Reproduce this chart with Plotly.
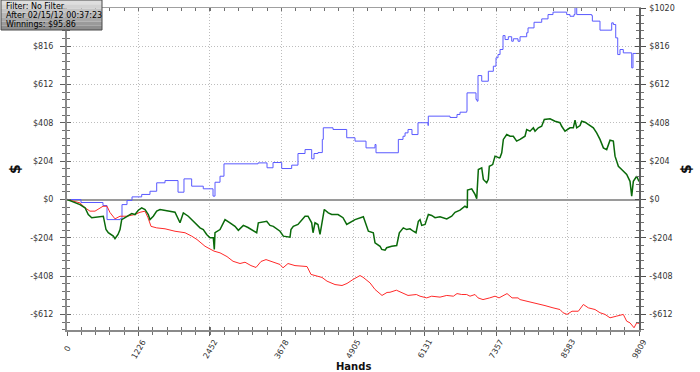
import plotly.graph_objects as go

# ---------------- data ----------------
blue_x = [0, 240, 617, 686, 909, 943, 1029, 1115, 1281, 1423, 1538, 1681, 1904, 2006, 2138, 2337,
          2504, 2538, 2624, 2692, 3276, 3430, 3533, 3682, 3853, 3961, 4082, 4196, 4236, 4304, 4378,
          4395, 4562, 4797, 4939, 5128, 5282, 5299, 5682, 5762, 5797, 5848, 5916, 6019, 6191, 6196,
          6568, 6688, 6740, 6854, 6860, 7014, 7031, 7048, 7112, 7225, 7311, 7357, 7391, 7426, 7477,
          7512, 7568, 7626, 7654, 7734, 7769, 7883, 7906, 8009, 8141, 8249, 8334, 8569, 8626, 8694,
          8712, 8741, 8998, 9009, 9140, 9341, 9369, 9410, 9444, 9483, 9540, 9684, 9706, 9809]
blue_y = [0, -16, -32, -107, -103, -27, -5, 14, 27, 44, 89, 101, 39, 110, 71, 57,
          18, 92, 124, 190, 195, 169, 197, 165, 183, 245, 266, 217, 245, 250, 320,
          382, 373, 329, 311, 275, 293, 249, 320, 337, 355, 373, 346, 409, 394, 444,
          437, 453, 465, 470, 568, 533, 524, 660, 630, 683, 710, 755, 772, 799, 873,
          852, 867, 843, 856, 843, 867, 888, 914, 944, 962, 985, 998, 985, 976, 985,
          1040, 985, 980, 950, 902, 941, 932, 861, 772, 799, 781, 701, 778, 778]

green_x = [0, 108, 223, 309, 365, 424, 509, 623, 669, 708, 794, 823, 875, 909, 938, 1024, 1110,
           1166, 1223, 1281, 1338, 1394, 1423, 1480, 1538, 1595, 1766, 1852, 1938, 1995, 2080,
           2138, 2224, 2281, 2337, 2395, 2452, 2509, 2526, 2538, 2624, 2681, 2710, 2795, 2881,
           2938, 3024, 3104, 3167, 3253, 3281, 3425, 3481, 3538, 3653, 3710, 3824, 3841, 3881,
           3961, 4082, 4133, 4196, 4219, 4253, 4304, 4339, 4368, 4412, 4481, 4539, 4648, 4733,
           4797, 4882, 4939, 5082, 5111, 5168, 5253, 5282, 5368, 5397, 5454, 5482, 5568, 5654,
           5699, 5739, 5767, 5825, 5882, 5939, 5985, 6025, 6054, 6083, 6140, 6197, 6254, 6311,
           6397, 6512, 6597, 6654, 6740, 6825, 6865, 6868, 6940, 6997, 7026, 7054, 7112, 7140,
           7197, 7225, 7242, 7300, 7340, 7414, 7426, 7455, 7483, 7541, 7598, 7654, 7711, 7769,
           7854, 7883, 7940, 7997, 8026, 8083, 8140, 8185, 8283, 8369, 8454, 8483, 8540, 8626,
           8683, 8712, 8741, 8798, 8826, 8883, 8940, 9026, 9083, 9140, 9198, 9255, 9312, 9369,
           9398, 9455, 9512, 9598, 9655, 9684, 9712, 9769, 9809]
green_y = [0, -14, -27, -44, -80, -97, -92, -89, -160, -177, -195, -209, -186, -160, -107, -89, -75,
           -80, -57, -44, -53, -80, -107, -89, -62, -53, -62, -68, -124, -71, -89,
           -107, -133, -151, -160, -186, -204, -204, -266, -177, -160, -124, -107, -124, -143,
           -164, -138, -149, -160, -177, -124, -116, -138, -143, -169, -195, -201, -160, -143,
           -133, -89, -89, -124, -177, -124, -133, -186, -124, -53, -71, -80, -80, -97,
           -133, -116, -107, -92, -116, -169, -177, -231, -249, -266, -270, -257, -249, -245,
           -177, -160, -151, -160, -156, -169, -177, -116, -107, -138, -133, -80, -85, -97,
           -92, -103, -89, -68, -57, -36, -44, 50, 57, 27, 4, 160, 169, 107,
           89, 107, 177, 186, 231, 222, 224, 249, 320, 346, 337, 337, 311, 320,
           337, 373, 364, 382, 364, 382, 390, 426, 430, 417, 409, 390, 364, 382,
           382, 422, 382, 394, 417, 412, 399, 382, 355, 320, 275, 266, 316, 311,
           231, 177, 160, 133, 97, 18, 97, 124, 96]

red_x = [0, 223, 309, 394, 480, 566, 617, 686, 737, 823, 909, 1024, 1110, 1166, 1252, 1338, 1389,
         1441, 1538, 1681, 1852, 2024, 2138, 2229, 2367, 2452, 2521, 2624, 2744, 2847, 2967, 3053,
         3155, 3241, 3327, 3413, 3498, 3653, 3704, 3790, 3910, 3996, 4116, 4184, 4304, 4373, 4459,
         4596, 4716, 4802, 4905, 4973, 5025, 5076, 5128, 5196, 5282, 5402, 5488, 5539, 5648, 5733,
         5848, 5991, 6054, 6168, 6254, 6397, 6512, 6626, 6688, 6768, 6854, 6911, 6997, 7048, 7134,
         7249, 7340, 7409, 7477, 7546, 7632, 7734, 7769, 7883, 8026, 8112, 8197, 8334, 8454, 8506,
         8575, 8660, 8769, 8855, 8940, 9055, 9140, 9226, 9312, 9426, 9540, 9598, 9655, 9724, 9769,
         9809]
red_y = [0, -18, -44, -62, -62, -44, -36, -36, -69, -103, -89, -89, -85, -80, -68, -62, -97,
         -143, -151, -156, -169, -177, -195, -213, -249, -263, -275, -284, -304, -329, -341, -334,
         -352, -362, -330, -320, -329, -346, -364, -341, -352, -355, -357, -399, -409, -415, -435,
         -453, -458, -447, -426, -415, -405, -414, -426, -444, -479, -511, -495, -494, -483, -494,
         -511, -506, -515, -524, -515, -520, -511, -515, -501, -506, -506, -515, -506, -524, -533,
         -524, -515, -524, -511, -501, -524, -524, -533, -541, -550, -559, -565, -577, -586, -603,
         -612, -595, -595, -559, -577, -586, -603, -612, -630, -621, -612, -648, -657, -683, -657,
         -660]

x_ticks = [0, 1226, 2452, 3678, 4905, 6131, 7357, 8583, 9809]
x_tick_labels = ["0", "1226", "2452", "3678", "4905", "6131", "7357", "8583", "9809"]
y_ticks = [-612, -408, -204, 0, 204, 408, 612, 816, 1020]
y_tick_labels = ["-$612", "-$408", "-$204", "$0", "$204", "$408", "$612", "$816", "$1020"]
y_tick_labels_left = y_tick_labels[:-1] + [""]
info_lines = ["Filter: No Filter", "After 02/15/12 00:37:23", "Winnings: $95.86"]

X_RANGE = [0, 9809]
Y_RANGE = [-695, 1020]

FONT = "DejaVu Sans"
W, H = 700, 372
ML, MR, MT, MB = 67, 61, 8, 42
PW, PH = W - ML - MR, H - MT - MB


def px_to_paper_x(px):
    return (px - ML) / PW


def px_to_paper_y(py):
    return (H - MB - py) / PH


fig = go.Figure()
fig.add_trace(go.Scatter(x=blue_x, y=blue_y, mode="lines", line=dict(color="#5a5aff", width=1, shape="hv"),
                         showlegend=False, hoverinfo="skip"))
fig.add_trace(go.Scatter(x=red_x, y=red_y, mode="lines", line=dict(color="#ff2a2a", width=1),
                         showlegend=False, hoverinfo="skip"))
fig.add_trace(go.Scatter(x=green_x, y=green_y, mode="lines", line=dict(color="#0a6a0a", width=1.5),
                         showlegend=False, hoverinfo="skip"))
# helper traces so overlay axes are drawn
fig.add_trace(go.Scatter(x=[None], y=[None], xaxis="x2", yaxis="y2", showlegend=False, hoverinfo="skip"))
fig.add_trace(go.Scatter(x=[None], y=[None], xaxis="x3", yaxis="y3", showlegend=False, hoverinfo="skip"))
fig.add_trace(go.Scatter(x=[None], y=[None], xaxis="x", yaxis="y4", showlegend=False, hoverinfo="skip"))

tickfont = dict(family=FONT, size=8, color="#333333")
minor_x = dict(dtick=9809 / 40, tick0=0, ticklen=3, tickcolor="#707070", showgrid=False)
minor_y = dict(dtick=40.8, tick0=0, ticklen=3, tickcolor="#707070", showgrid=False)
GRID = dict(showgrid=True, gridcolor="#bdbdbd", griddash="1px,2px", gridwidth=1)

fig.update_layout(
    width=W, height=H,
    margin=dict(l=ML, r=MR, t=MT, b=MB, autoexpand=False),
    paper_bgcolor="white", plot_bgcolor="white",
    xaxis=dict(range=X_RANGE, tickmode="array", tickvals=x_ticks, showticklabels=False, automargin=False,
               ticks="outside", ticklen=4, tickcolor="#606060", minor=dict(ticks="outside", **minor_x),
               showline=True, linecolor="#8a8a8a", linewidth=2, zeroline=False, **GRID),
    xaxis2=dict(range=X_RANGE, overlaying="x", side="bottom", anchor="y2", tickmode="array", automargin=False,
                tickvals=x_ticks, showticklabels=False, ticks="inside", ticklen=3, tickcolor="#606060",
                minor=dict(ticks="inside", **minor_x), showgrid=False, showline=False, zeroline=False),
    xaxis3=dict(range=X_RANGE, overlaying="x", side="top", anchor="y3", tickmode="array", automargin=False,
                tickvals=x_ticks, showticklabels=False, ticks="inside", ticklen=3, tickcolor="#707070",
                minor=dict(ticks="inside", **minor_x), showgrid=False, showline=True,
                linecolor="#a0a0a0", linewidth=1, zeroline=False),
    yaxis=dict(range=Y_RANGE, tickmode="array", tickvals=y_ticks, ticktext=y_tick_labels_left, automargin=False,
               tickfont=tickfont, ticks="outside", ticklen=5, tickcolor="#606060", ticklabelstandoff=5,
               minor=dict(ticks="outside", **minor_y),
               zeroline=True, zerolinecolor="#9a9a9a", zerolinewidth=1.5,
               showline=True, linecolor="#8a8a8a", linewidth=2, **GRID),
    yaxis2=dict(range=Y_RANGE, overlaying="y", side="left", anchor="x2", tickmode="array", automargin=False,
                tickvals=y_ticks, showticklabels=False, ticks="inside", ticklen=4, tickcolor="#606060",
                minor=dict(ticks="inside", **minor_y), showgrid=False, zeroline=False, showline=False),
    yaxis3=dict(range=Y_RANGE, overlaying="y", side="right", anchor="x3", tickmode="array", automargin=False,
                tickvals=y_ticks, ticktext=y_tick_labels, tickfont=tickfont, ticks="outside",
                ticklen=5, tickcolor="#505050", ticklabelstandoff=2,
                minor=dict(ticks="outside", **minor_y), showgrid=False, zeroline=False,
                showline=True, linecolor="#606060", linewidth=1.5),
    yaxis4=dict(range=Y_RANGE, overlaying="y", side="right", anchor="x", tickmode="array", automargin=False,
                tickvals=y_ticks, showticklabels=False, ticks="inside", ticklen=4, tickcolor="#505050",
                minor=dict(ticks="inside", **minor_y), showgrid=False, zeroline=False, showline=False),
)

annotations = []
# rotated x tick labels, centred on ticks
for v, t in zip(x_ticks, x_tick_labels):
    annotations.append(dict(x=v, xref="x", y=px_to_paper_y(349), yref="paper", text=t, showarrow=False,
                            textangle=-60, xanchor="center", yanchor="middle",
                            font=dict(family=FONT, size=8, color="#333333")))
# axis titles
annotations.append(dict(x=0.5, xref="paper", y=px_to_paper_y(359), yref="paper", text="<b>Hands</b>",
                        showarrow=False, xanchor="center", yanchor="top",
                        font=dict(family=FONT, size=10, color="#111111")))
for px in (15, 686):
    annotations.append(dict(x=px_to_paper_x(px), xref="paper", y=0.5, yref="paper", text="<b>$</b>",
                            showarrow=False, textangle=-90, xanchor="center", yanchor="middle",
                            font=dict(family=FONT, size=14, color="#111111")))
# info box text
for i, line in enumerate(info_lines):
    annotations.append(dict(x=px_to_paper_x(4), xref="paper", y=px_to_paper_y(6 + 9.35 * i), yref="paper",
                            text=line, showarrow=False, xanchor="left", yanchor="middle",
                            font=dict(family=FONT, size=8, color="#000000")))
fig.update_layout(annotations=annotations)

# info box background (vertical gradient approximated by bands)
shapes = []
band_colors = ["#dedede", "#d2d2d2", "#c4c4c4", "#b6b6b6", "#a8a8a8", "#9a9a9a", "#8e8e8e"]
top, bottom = 0, 30
n = len(band_colors)
for i, c in enumerate(band_colors):
    y0 = top + (bottom - top) * i / n
    y1 = top + (bottom - top) * (i + 1) / n
    shapes.append(dict(type="rect", xref="paper", yref="paper", x0=px_to_paper_x(1), x1=px_to_paper_x(102),
                       y0=px_to_paper_y(y1), y1=px_to_paper_y(y0), fillcolor=c, line=dict(width=0),
                       layer="above"))
shapes.append(dict(type="rect", xref="paper", yref="paper", x0=px_to_paper_x(1), x1=px_to_paper_x(102),
                   y0=px_to_paper_y(bottom), y1=px_to_paper_y(top), fillcolor="rgba(0,0,0,0)",
                   line=dict(color="#4a4a4a", width=1), layer="above"))
fig.update_layout(shapes=shapes)

fig.write_html("out.html", config={"displayModeBar": False},
               post_script="document.body.style.margin='0';document.body.style.overflow='hidden';")
